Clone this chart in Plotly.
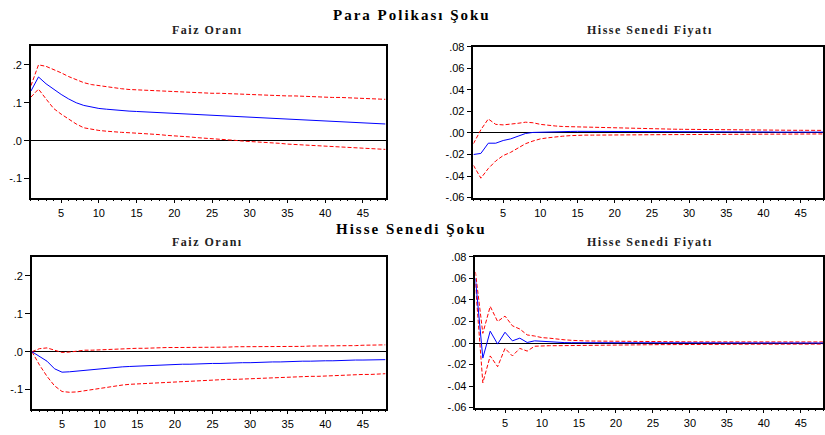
import plotly.graph_objects as go

periods = list(range(1, 49))

# Para Politikası Şoku -> Faiz Oranı
p_faiz_resp = [0.131, 0.168, 0.150, 0.135, 0.122, 0.110, 0.100, 0.093, 0.088, 0.085,
               0.083, 0.081, 0.079, 0.078, 0.077, 0.076, 0.075, 0.074, 0.073, 0.072,
               0.071, 0.070, 0.069, 0.068, 0.067, 0.066, 0.065, 0.064, 0.063, 0.062,
               0.061, 0.060, 0.059, 0.058, 0.057, 0.056, 0.055, 0.054, 0.053, 0.052,
               0.051, 0.050, 0.049, 0.048, 0.047, 0.046, 0.045, 0.044]
p_faiz_up = [0.145, 0.200, 0.196, 0.188, 0.179, 0.169, 0.160, 0.153, 0.148, 0.145,
             0.142, 0.139, 0.137, 0.135, 0.134, 0.133, 0.132, 0.131, 0.130, 0.129,
             0.128, 0.128, 0.127, 0.126, 0.125, 0.125, 0.124, 0.123, 0.122, 0.122,
             0.121, 0.120, 0.120, 0.119, 0.118, 0.118, 0.117, 0.116, 0.116, 0.115,
             0.114, 0.114, 0.113, 0.112, 0.112, 0.111, 0.110, 0.109]
p_faiz_lo = [0.115, 0.136, 0.110, 0.085, 0.070, 0.056, 0.044, 0.034, 0.030, 0.027,
             0.025, 0.023, 0.022, 0.021, 0.020, 0.019, 0.017, 0.016, 0.014, 0.013,
             0.011, 0.010, 0.008, 0.007, 0.005, 0.004, 0.002, 0.001, -0.001, -0.002,
             -0.004, -0.005, -0.006, -0.007, -0.009, -0.010, -0.011, -0.012, -0.013, -0.014,
             -0.015, -0.016, -0.017, -0.018, -0.019, -0.020, -0.021, -0.023]

# Para Politikası Şoku -> Hisse Senedi Fiyatı
p_hisse_resp = [-0.020, -0.019, -0.0095, -0.0095, -0.007, -0.0055, -0.003, -0.0005, 0.0005, 0.0008,
                0.001, 0.0012, 0.0013, 0.0014, 0.0015, 0.0015, 0.0015, 0.0015, 0.0015, 0.0014,
                0.0014, 0.0014, 0.0013, 0.0013, 0.0013, 0.0012, 0.0012, 0.0012, 0.0011, 0.0011,
                0.0011, 0.0011, 0.0010, 0.0010, 0.0010, 0.0010, 0.0009, 0.0009, 0.0009, 0.0009,
                0.0009, 0.0008, 0.0008, 0.0008, 0.0008, 0.0008, 0.0008, 0.0008]
p_hisse_up = [-0.010, 0.003, 0.013, 0.008, 0.0075, 0.008, 0.009, 0.010, 0.0095, 0.008,
              0.007, 0.0065, 0.006, 0.0058, 0.0055, 0.0053, 0.005, 0.0048, 0.0047, 0.0045,
              0.0044, 0.0043, 0.0041, 0.004, 0.0038, 0.0037, 0.0036, 0.0035, 0.0034, 0.0033,
              0.0032, 0.0032, 0.0031, 0.003, 0.003, 0.0029, 0.0029, 0.0028, 0.0028, 0.0027,
              0.0027, 0.0026, 0.0026, 0.0025, 0.0025, 0.0025, 0.0024, 0.0024]
p_hisse_lo = [-0.030, -0.042, -0.033, -0.026, -0.021, -0.018, -0.014, -0.010, -0.0075, -0.0055,
              -0.0045, -0.0035, -0.003, -0.0025, -0.002, -0.002, -0.002, -0.0019, -0.0019, -0.0018,
              -0.0018, -0.0017, -0.0017, -0.0016, -0.0016, -0.0016, -0.0015, -0.0015, -0.0015, -0.0014,
              -0.0014, -0.0014, -0.0013, -0.0013, -0.0013, -0.0012, -0.0012, -0.0012, -0.0011, -0.0011,
              -0.0011, -0.001, -0.001, -0.001, -0.001, -0.0009, -0.0009, -0.0009]

# Hisse Senedi Şoku -> Faiz Oranı
h_faiz_resp = [0.000, -0.013, -0.025, -0.045, -0.054, -0.053, -0.051, -0.049, -0.047, -0.045,
               -0.043, -0.041, -0.040, -0.039, -0.038, -0.037, -0.036, -0.035, -0.035, -0.034,
               -0.033, -0.033, -0.032, -0.032, -0.031, -0.031, -0.030, -0.030, -0.029, -0.029,
               -0.028, -0.028, -0.027, -0.027, -0.026, -0.026, -0.025, -0.025, -0.024, -0.024,
               -0.024, -0.023, -0.023, -0.022, -0.022, -0.022, -0.021, -0.021]
h_faiz_up = [0.000, 0.008, 0.010, 0.004, -0.002, -0.001, 0.002, 0.004, 0.004, 0.005,
             0.006, 0.007, 0.007, 0.008, 0.009, 0.009, 0.010, 0.010, 0.011, 0.011,
             0.011, 0.011, 0.012, 0.012, 0.012, 0.012, 0.012, 0.013, 0.013, 0.013,
             0.013, 0.013, 0.014, 0.014, 0.014, 0.014, 0.014, 0.015, 0.015, 0.015,
             0.015, 0.016, 0.016, 0.016, 0.017, 0.017, 0.017, 0.018]
h_faiz_lo = [0.000, -0.035, -0.065, -0.090, -0.105, -0.107, -0.106, -0.103, -0.100, -0.097,
             -0.093, -0.090, -0.088, -0.086, -0.085, -0.084, -0.082, -0.081, -0.080, -0.079,
             -0.078, -0.077, -0.076, -0.076, -0.075, -0.074, -0.073, -0.073, -0.072, -0.071,
             -0.070, -0.070, -0.069, -0.068, -0.067, -0.067, -0.066, -0.065, -0.065, -0.064,
             -0.063, -0.062, -0.062, -0.061, -0.060, -0.060, -0.059, -0.058]

# Hisse Senedi Şoku -> Hisse Senedi Fiyatı
h_hisse_resp = [0.060, -0.014, 0.011, -0.001, 0.010, 0.002, 0.0045, 0.0005, 0.002, 0.0015,
                0.001, 0.0005, 0.0004, 0.0003, 0.0003, 0.0002, 0.0002, 0.0002, 0.0001, 0.0001,
                0.0001, 0.0001, 0.0001, 0.0001, 0.0, 0.0, 0.0, 0.0, 0.0, 0.0,
                0.0, 0.0, 0.0, 0.0, 0.0, 0.0, 0.0, 0.0, 0.0, 0.0,
                0.0, 0.0, 0.0, 0.0, 0.0, 0.0, 0.0, 0.0]
h_hisse_up = [0.066, 0.009, 0.034, 0.020, 0.025, 0.016, 0.013, 0.0075, 0.0065, 0.005,
              0.0045, 0.0035, 0.003, 0.0025, 0.002, 0.0019, 0.0018, 0.0017, 0.0016, 0.0015,
              0.0015, 0.0014, 0.0014, 0.0013, 0.0013, 0.0013, 0.0012, 0.0012, 0.0012, 0.0011,
              0.0011, 0.0011, 0.0011, 0.001, 0.001, 0.001, 0.001, 0.001, 0.001, 0.001,
              0.001, 0.001, 0.001, 0.001, 0.001, 0.001, 0.001, 0.001]
h_hisse_lo = [0.055, -0.037, -0.012, -0.022, -0.005, -0.012, -0.005, -0.0075, -0.003, -0.0025,
              -0.0025, -0.0025, -0.0024, -0.0022, -0.002, -0.002, -0.0019, -0.0019, -0.0018, -0.0018,
              -0.0017, -0.0017, -0.0016, -0.0016, -0.0015, -0.0015, -0.0015, -0.0014, -0.0014, -0.0013,
              -0.0013, -0.0013, -0.0012, -0.0012, -0.0012, -0.0012, -0.0011, -0.0011, -0.0011, -0.0011,
              -0.0011, -0.001, -0.001, -0.001, -0.001, -0.001, -0.001, -0.001]

faiz_ticks = [0.2, 0.1, 0.0, -0.1]
faiz_ticktext = [".2", ".1", ".0", "-.1"]
hisse_ticks = [0.08, 0.06, 0.04, 0.02, 0.0, -0.02, -0.04, -0.06]
hisse_ticktext = [".08", ".06", ".04", ".02", ".00", "-.02", "-.04", "-.06"]
x_ticks = [5, 10, 15, 20, 25, 30, 35, 40, 45]

section_titles = ["Para Polikası Şoku", "Hisse Senedi Şoku"]
panel_titles = ["Faiz Oranı", "Hisse Senedi Fiyatı"]

W, H = 825, 435

def px(v):
    return v / W

def py(v):
    return 1 - v / H

panels = [
    ((31, 386), (41, 197), p_faiz_resp, p_faiz_up, p_faiz_lo, [-0.15, 0.25], faiz_ticks, faiz_ticktext),
    ((474, 824), (42, 197), p_hisse_resp, p_hisse_up, p_hisse_lo, [-0.06, 0.08], hisse_ticks, hisse_ticktext),
    ((32, 386), (258, 414), h_faiz_resp, h_faiz_up, h_faiz_lo, [-0.15, 0.25], faiz_ticks, faiz_ticktext),
    ((476, 824), (258, 413), h_hisse_resp, h_hisse_up, h_hisse_lo, [-0.06, 0.08], hisse_ticks, hisse_ticktext),
]

fig = go.Figure()
layout = {}
tickfont = dict(family="Liberation Sans, Arial", size=11, color="#000")

for i, (xr, yr, resp, up, lo, yrange, yt, ytt) in enumerate(panels):
    n = "" if i == 0 else str(i + 1)
    xa, ya = "x" + n, "y" + n
    for ser, col, dash in ((up, "#ff0000", "4px,2px"), (lo, "#ff0000", "4px,2px"), (resp, "#0000ff", "solid")):
        fig.add_trace(go.Scatter(x=periods, y=ser, mode="lines", xaxis=xa, yaxis=ya,
                                 line=dict(color=col, width=1, dash=dash), showlegend=False,
                                 hoverinfo="skip"))
    layout["xaxis" + n] = dict(domain=[px(xr[0]), px(xr[1])], anchor=ya, range=[1, 48],
                               tickvals=x_ticks, ticks="outside", ticklen=4, tickcolor="#000",
                               showline=True, linecolor="#000", linewidth=1.5, mirror=True,
                               showgrid=False, zeroline=False, tickfont=tickfont,
                               minor=dict(dtick=1, tick0=0, ticks="outside", ticklen=2,
                                          tickcolor="#000", showgrid=False))
    layout["yaxis" + n] = dict(domain=[py(yr[1]), py(yr[0])], anchor=xa, range=yrange,
                               tickvals=yt, ticktext=ytt, ticks="outside", ticklen=5,
                               tickcolor="#000", showline=True, linecolor="#000", linewidth=1.5,
                               mirror=True, showgrid=False, zeroline=True, zerolinecolor="#000",
                               zerolinewidth=1, tickfont=tickfont)

annotations = []
for t, yy in zip(section_titles, (9, 229)):
    annotations.append(dict(text="<b><span style='letter-spacing:2px'>" + t + "</span></b>",
                            x=px(412), y=py(yy), xref="paper", yref="paper",
                            showarrow=False, xanchor="center", yanchor="middle",
                            font=dict(family="Liberation Serif, Times New Roman", size=15, color="#000")))
for yy in (25, 243):
    for t, xx in zip(panel_titles, (208, 651)):
        annotations.append(dict(text="<b><span style='letter-spacing:1.5px'>" + t + "</span></b>",
                                x=px(xx), y=py(yy), xref="paper", yref="paper",
                                showarrow=False, xanchor="center", yanchor="middle",
                                font=dict(family="Liberation Serif, Times New Roman", size=12, color="#222")))

fig.update_layout(width=W, height=H, margin=dict(l=0, r=0, t=0, b=0),
                  paper_bgcolor="white", plot_bgcolor="white", showlegend=False,
                  hovermode=False, annotations=annotations, **layout)

fig.write_html("out.html", config={"displayModeBar": False},
               post_script="document.body.style.margin='0';")
